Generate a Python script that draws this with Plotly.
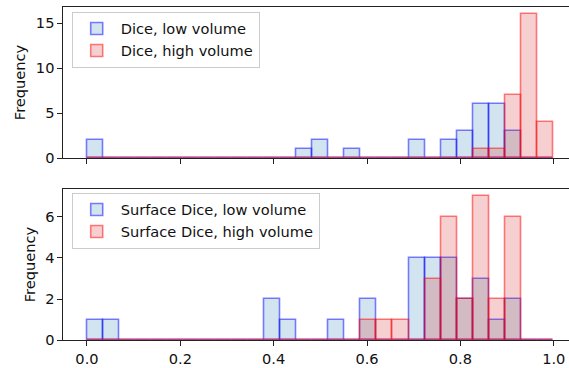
import numpy as np
import plotly.graph_objects as go
from plotly.subplots import make_subplots

# ---- data: histogram counts per bin (29 equal bins on [0, 1]) ----
n_bins = 29
dice_low = [2, 0, 0, 0, 0, 0, 0, 0, 0, 0, 0, 0, 0, 1, 2, 0, 1, 0, 0, 0, 2, 0, 2, 3, 6, 6, 3, 0, 0]
dice_high = [0, 0, 0, 0, 0, 0, 0, 0, 0, 0, 0, 0, 0, 0, 0, 0, 0, 0, 0, 0, 0, 0, 0, 0, 1, 1, 7, 16, 4]
surf_low = [1, 1, 0, 0, 0, 0, 0, 0, 0, 0, 0, 2, 1, 0, 0, 1, 0, 2, 0, 0, 4, 4, 4, 2, 3, 1, 2, 0, 0]
surf_high = [0, 0, 0, 0, 0, 0, 0, 0, 0, 0, 0, 0, 0, 0, 0, 0, 0, 1, 1, 1, 0, 3, 6, 2, 7, 2, 6, 0, 0]
x_ticks = [0.0, 0.2, 0.4, 0.6, 0.8, 1.0]
y_ticks_top = [0, 5, 10, 15]
y_ticks_bottom = [0, 2, 4, 6]

edges = np.linspace(0.0, 1.0, n_bins + 1)
centers = (edges[:-1] + edges[1:]) / 2
bw = edges[1] - edges[0]

BLUE_FILL = "rgba(31,119,180,0.2)"
BLUE_EDGE = "rgba(0,0,255,0.5)"
RED_FILL = "rgba(214,39,40,0.22)"
RED_EDGE = "rgba(255,0,0,0.5)"
FONT = "DejaVu Sans"
FS = 14.6

W, H = 569, 368
fig = make_subplots(rows=2, cols=1, shared_xaxes=True)

def add(counts, name, fill, edge, row, legend):
    fig.add_trace(go.Bar(x=centers, y=counts, width=bw, name=name,
                         marker=dict(color=fill, line=dict(color=edge, width=1.6)),
                         legend=legend), row=row, col=1)

add(dice_low, "Dice, low volume", BLUE_FILL, BLUE_EDGE, 1, "legend")
add(dice_high, "Dice, high volume", RED_FILL, RED_EDGE, 1, "legend")
add(surf_low, "Surface Dice, low volume", BLUE_FILL, BLUE_EDGE, 2, "legend2")
add(surf_high, "Surface Dice, high volume", RED_FILL, RED_EDGE, 2, "legend2")

x0 = 63.3 / W
axis_common = dict(showline=True, linecolor="#222", linewidth=1.1, ticks="outside",
                   ticklen=4.9, tickwidth=1.1, tickcolor="#222", showgrid=False,
                   zeroline=False, automargin=False,
                   tickfont=dict(family=FONT, size=FS, color="#111"))

fig.update_layout(
    template="none", width=W, height=H, barmode="overlay", bargap=0,
    margin=dict(l=0, r=0, t=0, b=0), paper_bgcolor="white", plot_bgcolor="white",
    font=dict(family=FONT, size=FS, color="#111"),
    xaxis=dict(domain=[x0, 1], range=[-0.0507, 1.0327], tickvals=x_ticks,
               showticklabels=False, mirror=True, anchor="y", **axis_common),
    xaxis2=dict(domain=[x0, 1], range=[-0.0507, 1.0327], tickvals=x_ticks,
                tickformat=".1f", mirror=True, anchor="y2", matches="x", **axis_common),
    yaxis=dict(domain=[1 - 158 / H, 1 - 7 / H], range=[0, 16.8], tickvals=y_ticks_top,
               title=dict(text="Frequency", font=dict(family=FONT, size=FS), standoff=6),
               anchor="x", **axis_common),
    yaxis2=dict(domain=[1 - 340.3 / H, 1 - 189 / H], range=[0, 7.35], tickvals=y_ticks_bottom,
                title=dict(text="Frequency", font=dict(family=FONT, size=FS), standoff=6),
                anchor="x2", **axis_common),
    legend=dict(x=71.7 / W, y=1 - 11.5 / H, xanchor="left", yanchor="top",
                bgcolor="rgba(255,255,255,0.8)", bordercolor="#cccccc", borderwidth=1,
                font=dict(family=FONT, size=FS), itemwidth=38, traceorder="normal"),
    legend2=dict(x=71.7 / W, y=1 - 192.5 / H, xanchor="left", yanchor="top",
                 bgcolor="rgba(255,255,255,0.8)", bordercolor="#cccccc", borderwidth=1,
                 font=dict(family=FONT, size=FS), itemwidth=38, traceorder="normal"),
)

fig.write_html("out.html", config={"displayModeBar": False},
               post_script="document.body.style.margin='0';document.body.style.overflow='hidden';")
